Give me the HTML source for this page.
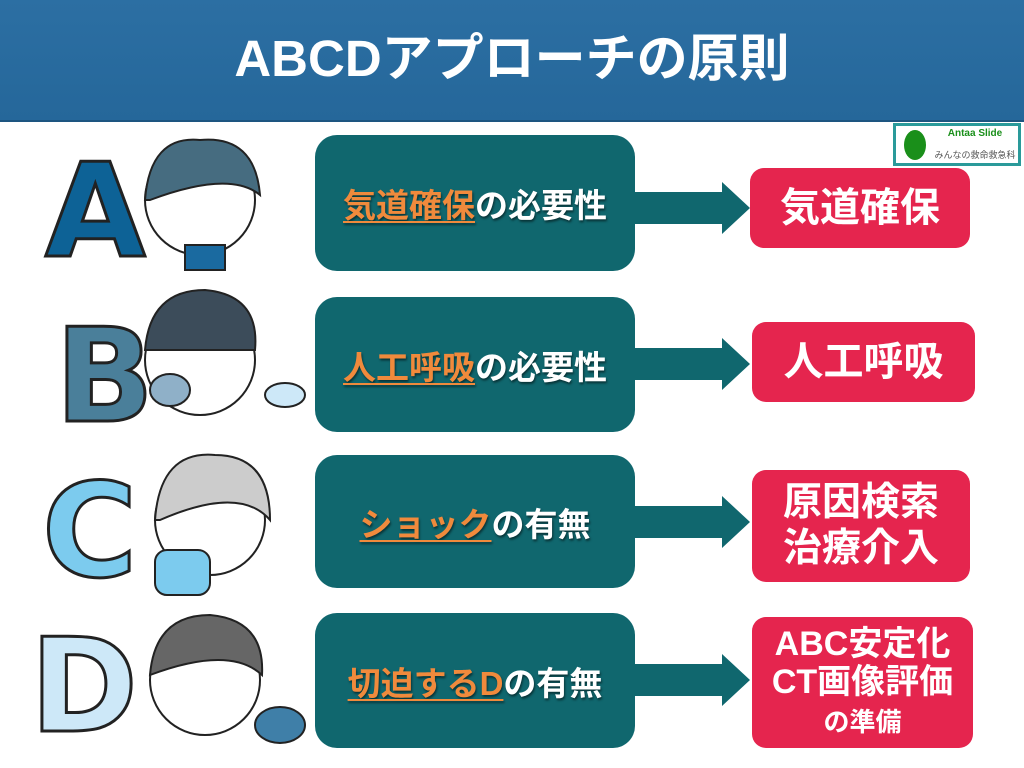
<!DOCTYPE html>
<html><head><meta charset="utf-8"><style>
*{margin:0;padding:0;box-sizing:border-box}
body{width:1024px;height:768px;position:relative;background:#fff;overflow:hidden;font-family:"Liberation Sans","Noto Sans CJK JP",sans-serif;font-weight:bold}
.hdr{position:absolute;left:0;top:0;width:1024px;height:122px;background:linear-gradient(#2c6fa3,#25679a);border-bottom:2px solid #1d5580;color:#fff;font-size:51px;text-align:center;line-height:118px}
.tb{position:absolute;left:315px;width:320px;background:#10676e;border-radius:22px;display:flex;align-items:center;justify-content:center;color:#fff;font-size:33px;text-shadow:1px 2px 2px rgba(0,0,0,.5);white-space:nowrap}
.tb u{color:#f08a3c;text-decoration:underline;text-decoration-thickness:2px;text-underline-offset:4px}
.rb{position:absolute;background:#e5254e;border-radius:14px;display:flex;align-items:center;justify-content:center;text-align:center;color:#fff;font-size:38px;line-height:46px;white-space:nowrap}
.ar{position:absolute;left:634px;width:116px;height:52px}
.L{position:absolute;font-size:130px;font-weight:900;-webkit-text-stroke:3px #222;font-family:"DejaVu Sans",sans-serif}
</style></head><body>
<div class="hdr">ABCDアプローチの原則</div>
<div style="position:absolute;left:893px;top:123px;width:128px;height:43px;border:3px solid #2a9a9a;background:#fff">
<div style="position:absolute;left:8px;top:4px;width:22px;height:30px;border-radius:50%;background:#1a8f1a"></div>
<div style="position:absolute;left:36px;top:2px;width:86px;text-align:center;font-size:10px;color:#1a8f1a">Antaa Slide</div>
<div style="position:absolute;left:36px;top:22px;width:86px;text-align:center;font-size:9px;color:#555;font-weight:normal">みんなの救命救急科</div>
</div>

<div class="L" style="left:45px;top:135px;color:#0d6296">A</div>
<div class="L" style="left:55px;top:300px;color:#4a7f9a">B</div>
<div class="L" style="left:42px;top:455px;color:#7ccbee">C</div>
<div class="L" style="left:30px;top:610px;color:#cde8f8">D</div>
<svg style="position:absolute;left:130px;top:125px" width="180" height="640">
<g stroke="#222" stroke-width="2">
<circle cx="70" cy="75" r="55" fill="#fff"/><path d="M15 75 Q20 10 70 15 Q125 10 130 70 Q100 45 20 75Z" fill="#466c80"/>
<rect x="55" y="120" width="40" height="25" fill="#1a6aa0"/>
<circle cx="70" cy="235" r="55" fill="#fff"/><path d="M15 225 Q20 165 75 165 Q130 170 125 225Z" fill="#3c4c5a"/>
<ellipse cx="40" cy="265" rx="20" ry="16" fill="#8fb0c8"/><ellipse cx="155" cy="270" rx="20" ry="12" fill="#cde8f8"/>
<circle cx="80" cy="395" r="55" fill="#fff"/><path d="M25 395 Q30 325 85 330 Q140 330 140 395 Q110 360 30 395Z" fill="#ccc"/>
<rect x="25" y="425" width="55" height="45" rx="12" fill="#7ccbee"/>
<circle cx="75" cy="555" r="55" fill="#fff"/><path d="M20 550 Q25 490 80 490 Q135 495 132 550 Q100 520 20 550Z" fill="#666"/>
<ellipse cx="150" cy="600" rx="25" ry="18" fill="#3f7fa8"/>
</g></svg>

<div class="tb" style="top:135px;height:136px"><span><u>気道確保</u>の必要性</span></div>
<div class="tb" style="top:297px;height:135px"><span><u>人工呼吸</u>の必要性</span></div>
<div class="tb" style="top:455px;height:133px"><span><u>ショック</u>の有無</span></div>
<div class="tb" style="top:613px;height:135px"><span><u>切迫するD</u>の有無</span></div>

<svg class="ar" style="top:182px" viewBox="0 0 116 52"><polygon points="0,10 88,10 88,0 116,26 88,52 88,42 0,42" fill="#10676e"/></svg>
<svg class="ar" style="top:338px" viewBox="0 0 116 52"><polygon points="0,10 88,10 88,0 116,26 88,52 88,42 0,42" fill="#10676e"/></svg>
<svg class="ar" style="top:496px" viewBox="0 0 116 52"><polygon points="0,10 88,10 88,0 116,26 88,52 88,42 0,42" fill="#10676e"/></svg>
<svg class="ar" style="top:654px" viewBox="0 0 116 52"><polygon points="0,10 88,10 88,0 116,26 88,52 88,42 0,42" fill="#10676e"/></svg>

<div class="rb" style="left:750px;top:168px;width:220px;height:80px;font-size:40px">気道確保</div>
<div class="rb" style="left:752px;top:322px;width:223px;height:80px;font-size:40px">人工呼吸</div>
<div class="rb" style="left:752px;top:470px;width:218px;height:112px;font-size:39px;line-height:46px"><div>原因検索<br>治療介入</div></div>
<div class="rb" style="left:752px;top:617px;width:221px;height:131px;font-size:34px;line-height:38px"><div>ABC安定化<br>CT画像評価<br><span style="font-size:26px">の準備</span></div></div>
</body></html>
